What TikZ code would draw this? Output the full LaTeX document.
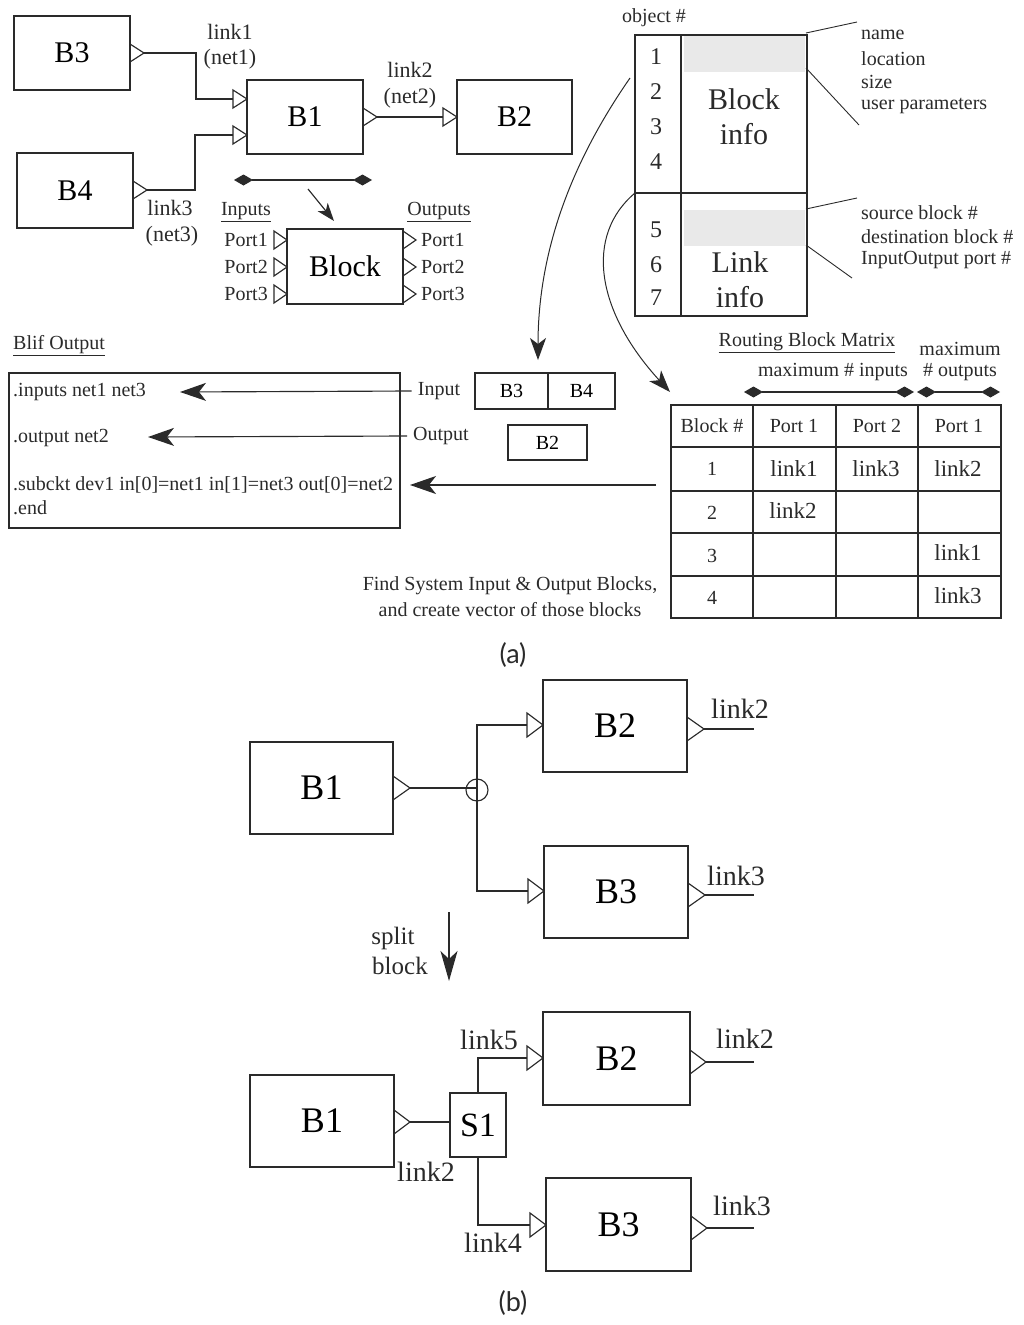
\documentclass[tikz,border=0pt]{standalone}
\usepackage{fontspec}
\setmainfont{Liberation Serif}
\newfontfamily\labfont{Lato}
\usetikzlibrary{arrows.meta,calc}
\definecolor{ink}{HTML}{2A2A2A}
\definecolor{greyfill}{HTML}{E9E9E9}
\newcommand\fs[1]{\fontsize{#1}{#1}\selectfont}
\newcommand\ptri[3]{\draw[wire, line join=miter] (#1) ++(0,-#3) -- ++(#2,#3) -- ++(-#2,#3) -- cycle;}
\begin{document}
\begin{tikzpicture}[x=1pt,y=-1pt,
  wire/.style={line width=1.15pt, draw=ink},
  box/.style={draw=ink, line width=1.15pt, inner sep=0pt},
  txt/.style={inner sep=0pt, text=ink},
  tip/.style={-{Stealth[length=22pt,width=16pt,inset=6pt]}},
  bigtip/.style={-{Stealth[length=26pt,width=18pt,inset=7pt]}},
  dia/.style={{Diamond[length=19pt,width=11pt]}-{Diamond[length=19pt,width=11pt]}}]
\useasboundingbox (0,0) rectangle (1024,1325);

% ---------------- (a) top-left network
\node[box, minimum width=116pt, minimum height=74pt, font=\fs{30}] (B3t) at (72,53) {B3};
\node[box, minimum width=116pt, minimum height=75pt, font=\fs{30}] (B4t) at (75,190.5) {B4};
\node[box, minimum width=116pt, minimum height=74pt, font=\fs{30}] (B1t) at (305,117) {B1};
\node[box, minimum width=115pt, minimum height=74pt, font=\fs{30}] (B2t) at (514.5,117) {B2};
\ptri{130,53}{14}{9}
\ptri{133,190}{14}{9}
\ptri{233,99}{14}{9}
\ptri{233,135}{14}{9}
\ptri{363,117}{14}{9}
\ptri{443,117}{14}{9}
\coordinate (b3out) at (144,53);
\coordinate (b4out) at (147,190);
\coordinate (b1in1) at (233,99);
\coordinate (b1in2) at (233,135);
\coordinate (b1out) at (377,117);
\coordinate (b2in) at (443,117);
\draw[wire] (b3out) -| (196,99) -- (b1in1);
\draw[wire] (b4out) -| (195,135) -- (b1in2);
\draw[wire] (b1out) -- (b2in);
\node[txt, font=\fs{22}] (l1) at (230,32) {link1};
\node[txt, font=\fs{22}] (n1) at (230,59) {(net1)};
\node[txt, font=\fs{22}] (l2) at (410,70) {link2};
\node[txt, font=\fs{22}] (n2) at (410,98) {(net2)};
\node[txt, font=\fs{22}] (l3) at (170,208) {link3};
\node[txt, font=\fs{22}] (n3) at (172,236) {(net3)};

% span and generic block
\coordinate (spanL) at (234,180);
\coordinate (spanR) at (372,180);
\draw[wire, dia] (spanL) -- (spanR);
\coordinate (gA) at (308,189);
\coordinate (gB) at (334,221);
\draw[wire, -{Stealth[length=18pt,width=13pt,inset=5pt]}] (gA) -- (gB);
\node[txt, font=\fs{20}] (inl) at (246,212) {\underline{Inputs}};
\node[txt, font=\fs{20}] (outl) at (439,212) {\underline{Outputs}};
\node[box, minimum width=116pt, minimum height=75pt, font=\fs{30}] (Blk) at (345,266.5) {Block};
\foreach \y/\n in {240/1,267/2,294/3}{
  \ptri{274,\y}{13}{9}
  \ptri{403,\y}{13}{9}
  \node[txt, font=\fs{20}, anchor=east] (pi\n) at (268,\y) {Port\n};
  \node[txt, font=\fs{20}, anchor=west] (po\n) at (421,\y) {Port\n};
}

% ---------------- object table
\fill[greyfill] (684,35) rectangle (805,72);
\fill[greyfill] (684,210) rectangle (805,246);
\node[box, minimum width=172pt, minimum height=281pt] (obj) at (721,175.5) {};
\draw[wire] (681,35) -- (681,316);
\draw[wire] (635,193) -- (808,193);
\node[txt, font=\fs{20}] (objh) at (654,18) {object \#};
\foreach \y/\n in {57/1,92/2,127/3,162/4,230/5,265/6,298/7}{
  \node[txt, font=\fs{24}] (num\n) at (656,\y) {\n};
}
\node[txt, font=\fs{30}] (bi1) at (744,99) {Block};
\node[txt, font=\fs{30}] (bi2) at (744,134) {info};
\node[txt, font=\fs{30}] (li1) at (740,262) {Link};
\node[txt, font=\fs{30}] (li2) at (740,297) {info};
\draw[wire, line width=0.9pt] (806,33) -- (857,22);
\draw[wire, line width=0.9pt] (806,68) -- (859,125);
\draw[wire, line width=0.9pt] (806,209) -- (857,198);
\draw[wire, line width=0.9pt] (806,245) -- (852,278);
\node[txt, font=\fs{20}, anchor=west] (t1) at (861,35) {name};
\node[txt, font=\fs{20}, anchor=west] (t2) at (861,59) {location};
\node[txt, font=\fs{20}, anchor=west] (t3) at (861,82) {size};
\node[txt, font=\fs{20}, anchor=west] (t4) at (861,106) {user parameters};
\node[txt, font=\fs{20}, anchor=west] (t5) at (861,213) {source block \#};
\node[txt, font=\fs{20}, anchor=west] (t6) at (861,237) {destination block \#};
\node[txt, font=\fs{20}, anchor=west] (t7) at (861,260) {InputOutput port \#};

% curved arrows
\coordinate (c1s) at (630,78);
\coordinate (c2s) at (635,193);
\coordinate (c1e) at (538,360);
\coordinate (c2e) at (670,392);
\draw[wire, line width=1pt, tip] (c1s) .. controls (580,150) and (538,240) .. (c1e);
\draw[wire, line width=1pt, tip] (c2s) .. controls (585,235) and (595,310) .. (c2e);

% ---------------- Blif output
\node[txt, font=\fs{20}, anchor=west] (blifh) at (13,346) {\underline{Blif Output}};
\node[box, minimum width=391pt, minimum height=155pt] (blif) at (204.5,450.5) {};
\node[txt, font=\fs{20}, anchor=west] (bl1) at (13,392) {.inputs net1 net3};
\node[txt, font=\fs{20}, anchor=west] (bl2) at (13,438) {.output net2};
\node[txt, font=\fs{20}, anchor=west] (bl3) at (13,485) {.subckt dev1 in[0]=net1 in[1]=net3 out[0]=net2};
\node[txt, font=\fs{20}, anchor=west] (bl4) at (13,508) {.end};
\node[txt, font=\fs{20}] (inp) at (439,391) {Input};
\node[txt, font=\fs{20}] (outp) at (441,436) {Output};
\coordinate (a1e) at (180,392);
\coordinate (a2e) at (148,437);
\coordinate (a3s) at (656,485);
\coordinate (a3e) at (410,485);
\draw[wire, bigtip] ([xshift=-6pt]inp.west) -- (a1e);
\draw[wire, bigtip] ([xshift=-6pt]outp.west) -- (a2e);
\draw[wire, bigtip] (a3s) -- (a3e);
\node[box, minimum width=73pt, minimum height=36pt, font=\fs{20}] (vB3) at (511.5,391) {B3};
\node[box, minimum width=67pt, minimum height=36pt, font=\fs{20}] (vB4) at (581.5,391) {B4};
\node[box, minimum width=79pt, minimum height=35pt, font=\fs{20}] (vB2) at (547.5,442.5) {B2};
\node[txt, font=\fs{20}] (find1) at (510,586) {Find System Input \& Output Blocks,};
\node[txt, font=\fs{20}] (find2) at (510,610) {and create vector of those blocks};

% ---------------- routing block matrix
\node[txt, font=\fs{20}] (rbm) at (807,343) {\underline{Routing Block Matrix}};
\node[txt, font=\fs{20}] (mx1) at (960,349) {maximum};
\node[txt, font=\fs{20}] (mx2) at (960,372) {\# outputs};
\node[txt, font=\fs{20}] (mxi) at (833,372) {maximum \# inputs};
\coordinate (d1a) at (744,392);
\coordinate (d1b) at (914,392);
\coordinate (d2a) at (917,392);
\coordinate (d2b) at (1000,392);
\draw[wire, dia] (d1a) -- (d1b);
\draw[wire, dia] (d2a) -- (d2b);
\node[box, minimum width=330pt, minimum height=213pt] (tbl) at (836,511.5) {};
\foreach \x in {753,836,918}{\draw[wire] (\x,405) -- (\x,618);}
\foreach \y in {447,491,533,576}{\draw[wire] (671,\y) -- (1001,\y);}
\node[txt, font=\fs{20}] (h1) at (712,426) {Block \#};
\node[txt, font=\fs{20}] (h2) at (794,426) {Port 1};
\node[txt, font=\fs{20}] (h3) at (877,426) {Port 2};
\node[txt, font=\fs{20}] (h4) at (959,426) {Port 1};
\node[txt, font=\fs{20}] (r1) at (712,469) {1};
\node[txt, font=\fs{20}] (r2) at (712,513) {2};
\node[txt, font=\fs{20}] (r3) at (712,556) {3};
\node[txt, font=\fs{20}] (r4) at (712,598) {4};
\node[txt, font=\fs{23}] (c11) at (794,469) {link1};
\node[txt, font=\fs{23}] (c12) at (876,469) {link3};
\node[txt, font=\fs{23}] (c13) at (958,469) {link2};
\node[txt, font=\fs{23}] (c21) at (793,511) {link2};
\node[txt, font=\fs{23}] (c33) at (958,553) {link1};
\node[txt, font=\fs{23}] (c43) at (958,596) {link3};

\node[txt, font=\labfont\fs{27}] (capa) at (513,655) {(a)};

% ---------------- (b) before split
\node[box, minimum width=143pt, minimum height=92pt, font=\fs{36}] (B1b) at (321.5,788) {B1};
\node[box, minimum width=144pt, minimum height=92pt, font=\fs{36}] (B2b) at (615,726) {B2};
\node[box, minimum width=144pt, minimum height=92pt, font=\fs{36}] (B3b) at (616,892) {B3};
\ptri{393,788}{17}{12}
\ptri{527,725}{16}{12}
\ptri{528,891}{16}{12}
\ptri{687,729}{17}{12}
\ptri{688,895}{17}{12}
\node[draw=ink, line width=1.15pt, circle, minimum size=22pt, inner sep=0pt] (jn) at (477,790) {};
\coordinate (b1bo) at (410,788);
\coordinate (b2bi) at (527,725);
\coordinate (b3bi) at (528,891);
\draw[wire] (b1bo) -- (477,788);
\draw[wire] (b2bi) -| (477,891) -- (b3bi);
\coordinate (b2bo) at (704,729);
\coordinate (b2be) at (754,729);
\coordinate (b3bo) at (705,895);
\coordinate (b3be) at (754,895);
\draw[wire] (b2bo) -- (b2be);
\draw[wire] (b3bo) -- (b3be);
\node[txt, font=\fs{28}] (ob2) at (740,709) {link2};
\node[txt, font=\fs{28}] (ob3) at (736,876) {link3};
\node[txt, font=\fs{25}] (sp1) at (393,938) {split};
\node[txt, font=\fs{25}] (sp2) at (400,966) {block};
\coordinate (spa) at (449,912);
\coordinate (spb) at (449,981);
\draw[wire, -{Stealth[length=30pt,width=17pt,inset=8pt]}] (spa) -- (spb);

% ---------------- (b) after split
\node[box, minimum width=144pt, minimum height=92pt, font=\fs{36}] (B1c) at (322,1121) {B1};
\node[box, minimum width=56pt, minimum height=64pt, font=\fs{34}] (S1) at (478,1125) {S1};
\node[box, minimum width=147pt, minimum height=93pt, font=\fs{36}] (B2c) at (616.5,1058.5) {B2};
\node[box, minimum width=145pt, minimum height=93pt, font=\fs{36}] (B3c) at (618.5,1224.5) {B3};
\ptri{394,1122}{16}{12}
\ptri{527,1058}{16}{12}
\ptri{530,1225}{16}{12}
\ptri{690,1062}{16}{12}
\ptri{691,1228}{16}{12}
\coordinate (b1co) at (410,1122);
\coordinate (b2ci) at (527,1058);
\coordinate (b3ci) at (530,1225);
\draw[wire] (b1co) -- (S1.west |- b1co);
\draw[wire] (S1.north) |- (b2ci);
\draw[wire] (S1.south) |- (b3ci);
\coordinate (b2co) at (706,1062);
\coordinate (b2ce) at (754,1062);
\coordinate (b3co) at (707,1228);
\coordinate (b3ce) at (754,1228);
\draw[wire] (b2co) -- (b2ce);
\draw[wire] (b3co) -- (b3ce);
\node[txt, font=\fs{28}] (k5) at (489,1040) {link5};
\node[txt, font=\fs{28}] (k4) at (493,1243) {link4};
\node[txt, font=\fs{28}] (k2) at (426,1172) {link2};
\node[txt, font=\fs{28}] (oc2) at (745,1039) {link2};
\node[txt, font=\fs{28}] (oc3) at (742,1206) {link3};

\node[txt, font=\labfont\fs{27}] (capb) at (513,1303) {(b)};
\end{tikzpicture}
\end{document}
